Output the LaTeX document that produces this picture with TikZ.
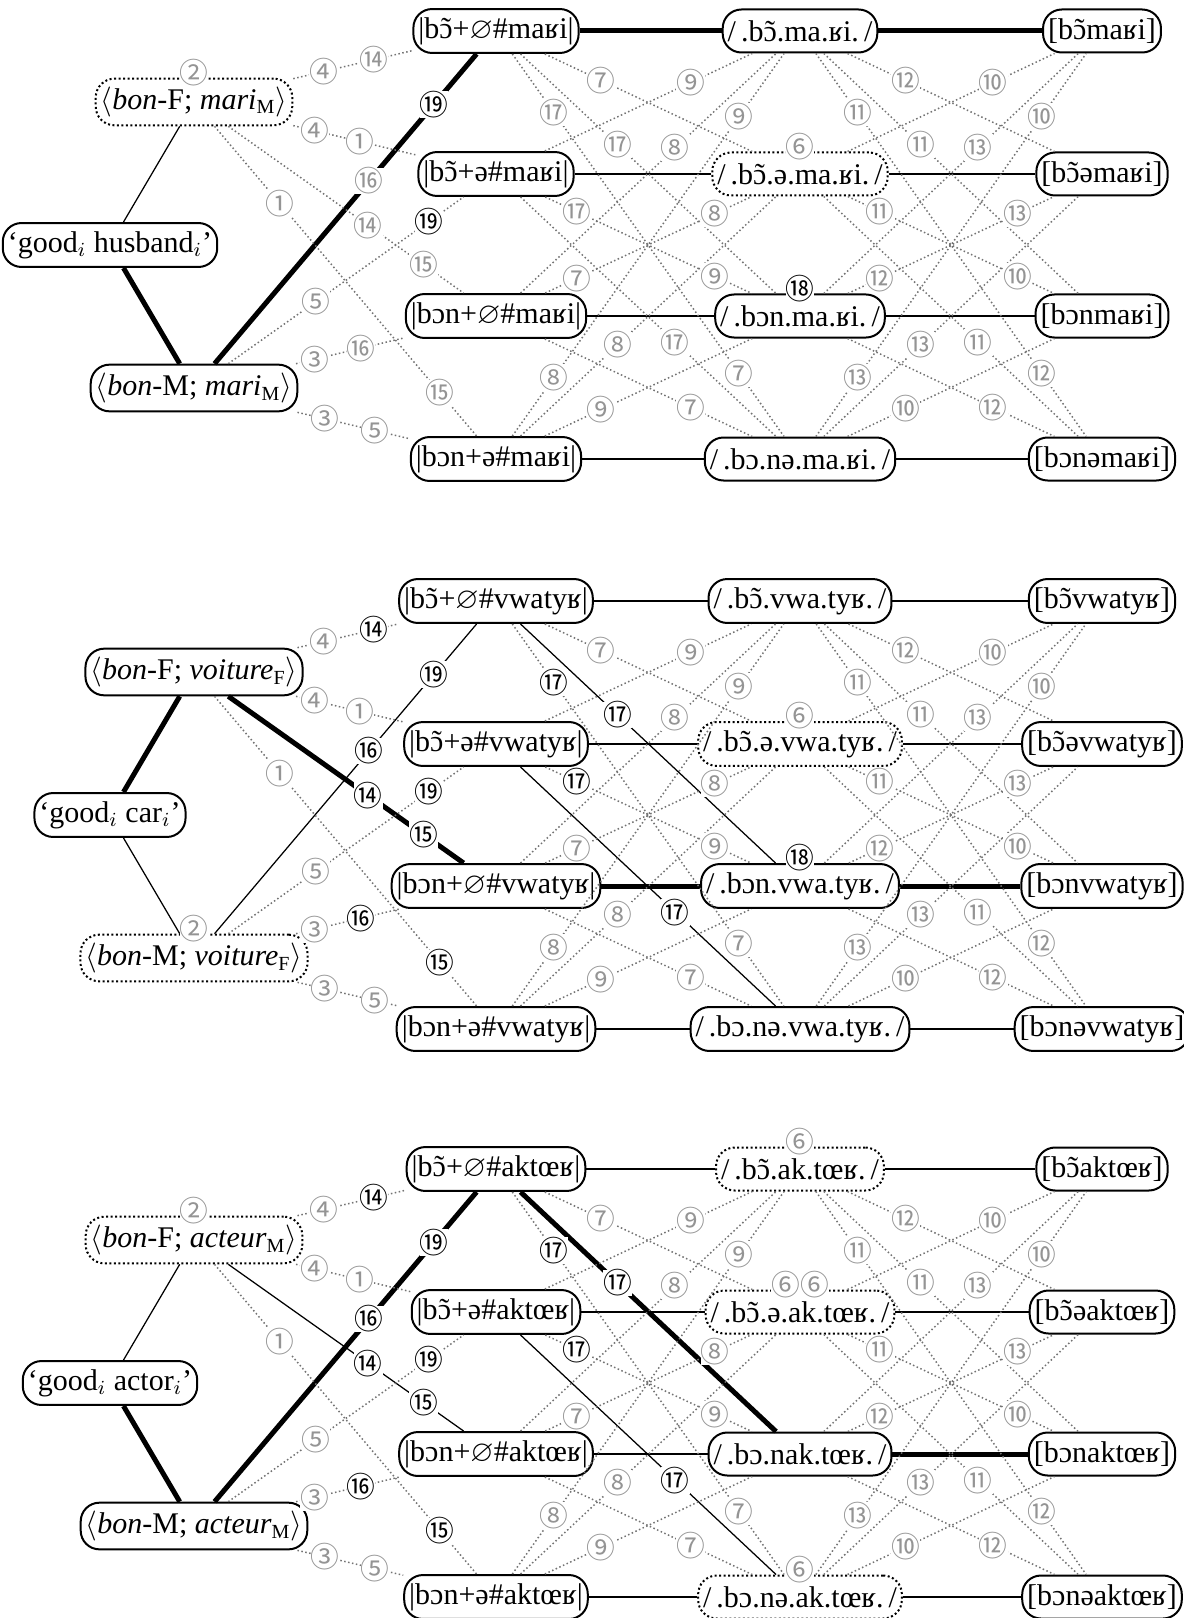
\documentclass[tikz,border=0pt]{standalone}
\usepackage{amssymb}
\usepackage{fontspec}
\setmainfont{Liberation Serif}
\newfontfamily\cjk{Noto Sans CJK JP}
\usetikzlibrary{positioning,calc}

\newcommand\circnum[1]{\char\numexpr"245F+#1\relax}
\newcommand\nasal[1]{\ooalign{#1\cr\hidewidth˜\hidewidth\cr}}

\tikzset{
    form/.style={draw, line width=0.8pt, rounded corners=7.5pt, minimum height=17.2pt,
        inner xsep=2pt, font=\fontsize{12}{14}\selectfont},
    loser/.style={form, dash pattern=on 0.8pt off 1pt},
    link/.style={line width=0.5pt},
    win/.style={line width=2pt},
    cand/.style={draw=black!55, line width=0.6pt, dash pattern=on 0.6pt off 1pt},
    viol/.style={font=\cjk\fontsize{11.5}{12}\selectfont, text=black!42, fill=white, inner sep=0pt},
    fatal/.style={text=black},
    top/.style={yshift=2pt},
}

% surface -> output candidates, same in every panel
\newcommand\surfacelinks[1]{%
    \foreach \i/\j in {1/2,1/3,1/4,2/1,2/3,2/4,3/1,3/2,3/4,4/1,4/2,4/3}
        \draw[cand] (#1-s\i) -- (#1-o\j);
}

% violation marks, placed along the links
\newcommand\violmarks[1]{%
    \foreach \a/\b/\p/\k in {f/u1/.43/4, f/u1/.594/14, f/u2/.40/4, f/u2/.55/1,
            f/u3/.577/14, f/u3/.76/15, f/u4/.284/1, f/u4/.815/15,
            m/u1/.58/16, m/u1/.795/19, m/u2/.404/5, m/u2/.778/19,
            m/u3/.40/3, m/u3/.553/16, m/u4/.434/3, m/u4/.60/5,
            u1/s2/.346/7, u1/s3/.40/17, u1/s4/.19/17, u1/s4/.80/7,
            u2/s1/.64/9, u2/s3/.266/17, u2/s3/.72/9, u2/s4/.59/17,
            u3/s1/.59/8, u3/s2/.265/7, u3/s2/.72/8, u3/s4/.64/7,
            u4/s1/.19/8, u4/s1/.80/9, u4/s2/.40/8, u4/s3/.346/9,
            s1/o2/.35/12, s1/o3/.40/11, s1/o4/.19/11, s1/o4/.80/12,
            s2/o1/.64/10, s2/o3/.266/11, s2/o3/.72/10, s2/o4/.59/11,
            s3/o1/.59/13, s3/o2/.265/12, s3/o2/.72/13, s3/o4/.64/12,
            s4/o1/.19/13, s4/o1/.80/10, s4/o2/.40/13, s4/o3/.35/10}
        \node[viol, v\k/.try] at ($(#1-\a)!\p!(#1-\b)$) {\circnum{\k}};%
}

\begin{document}
\begin{tikzpicture}[x=0.4pt, y=-0.4pt]
    \useasboundingbox (0,0) rectangle (1184,1618);

    %%% bon mari
    \begin{scope}[v18/.style=fatal, v19/.style=fatal]
        \node[form]  (a-mean) at (110,245) {‘good$_i$ husband$_i$’};
        \node[loser] (a-f) at (194,102) {$\langle$\textit{bon}-F; \textit{mari}\textsubscript{M}$\rangle$};
        \node[form]  (a-m) at (194,388) {$\langle$\textit{bon}-M; \textit{mari}\textsubscript{M}$\rangle$};
        \node[form]  (a-u1) at (496,31) {|b\nasal{ɔ}+$\varnothing$\#maʁi|};
        \node[form]  (a-u2) at (496,174) {|b\nasal{ɔ}+ə\#maʁi|};
        \node[form]  (a-u3) at (496,316) {|bɔn+$\varnothing$\#maʁi|};
        \node[form]  (a-u4) at (496,459) {|bɔn+ə\#maʁi|};
        \node[form]  (a-s1) at (800,31) {/\,.b\nasal{ɔ}.ma.ʁi.\,/};
        \node[loser] (a-s2) at (800,174) {/\,.b\nasal{ɔ}.ə.ma.ʁi.\,/};
        \node[form]  (a-s3) at (800,316) {/\,.bɔn.ma.ʁi.\,/};
        \node[form]  (a-s4) at (800,459) {/\,.bɔ.nə.ma.ʁi.\,/};
        \node[form]  (a-o1) at (1102,31) {[b\nasal{ɔ}maʁi]};
        \node[form]  (a-o2) at (1102,174) {[b\nasal{ɔ}əmaʁi]};
        \node[form]  (a-o3) at (1102,316) {[bɔnmaʁi]};
        \node[form]  (a-o4) at (1102,459) {[bɔnəmaʁi]};

        \draw[link] (a-mean) -- (a-f);
        \draw[win] (a-mean) -- (a-m);
        \draw[win] (a-m) -- (a-u1);
        \draw[win] (a-u1) -- (a-s1) -- (a-o1);
        \foreach \i in {2,3,4} \draw[link] (a-u\i) -- (a-s\i) -- (a-o\i);
        \foreach \a/\b in {f/u1,f/u2,f/u3,f/u4,m/u2,m/u3,m/u4} \draw[cand] (a-\a) -- (a-\b);
        \foreach \i/\j in {1/2,1/3,1/4,2/1,2/3,2/4,3/1,3/2,3/4,4/1,4/2,4/3} \draw[cand] (a-u\i) -- (a-s\j);
        \surfacelinks{a}
        \violmarks{a}
        \node[viol, top] at (a-f.north) {\circnum{2}};
        \node[viol, top] at (a-s2.north) {\circnum{6}};
        \node[viol, top, v18] at (a-s3.north) {\circnum{18}};
    \end{scope}

    %%% bonne voiture
    \begin{scope}[shift={(0,570)}, v14/.style=fatal, v15/.style=fatal, v16/.style=fatal,
            v17/.style=fatal, v18/.style=fatal, v19/.style=fatal]
        \node[form]  (b-mean) at (110,245) {‘good$_i$ car$_i$’};
        \node[form]  (b-f) at (194,102) {$\langle$\textit{bon}-F; \textit{voiture}\textsubscript{F}$\rangle$};
        \node[loser] (b-m) at (194,388) {$\langle$\textit{bon}-M; \textit{voiture}\textsubscript{F}$\rangle$};
        \node[form]  (b-u1) at (496,31) {|b\nasal{ɔ}+$\varnothing$\#vwatyʁ|};
        \node[form]  (b-u2) at (496,174) {|b\nasal{ɔ}+ə\#vwatyʁ|};
        \node[form]  (b-u3) at (496,316) {|bɔn+$\varnothing$\#vwatyʁ|};
        \node[form]  (b-u4) at (496,459) {|bɔn+ə\#vwatyʁ|};
        \node[form]  (b-s1) at (800,31) {/\,.b\nasal{ɔ}.vwa.tyʁ.\,/};
        \node[loser] (b-s2) at (800,174) {/\,.b\nasal{ɔ}.ə.vwa.tyʁ.\,/};
        \node[form]  (b-s3) at (800,316) {/\,.bɔn.vwa.tyʁ.\,/};
        \node[form]  (b-s4) at (800,459) {/\,.bɔ.nə.vwa.tyʁ.\,/};
        \node[form]  (b-o1) at (1102,31) {[b\nasal{ɔ}vwatyʁ]};
        \node[form]  (b-o2) at (1102,174) {[b\nasal{ɔ}əvwatyʁ]};
        \node[form]  (b-o3) at (1102,316) {[bɔnvwatyʁ]};
        \node[form]  (b-o4) at (1102,459) {[bɔnəvwatyʁ]};

        \draw[win] (b-mean) -- (b-f);
        \draw[link] (b-mean) -- (b-m);
        \draw[win] (b-f) -- (b-u3);
        \draw[link] (b-m) -- (b-u1);
        \draw[win] (b-u3) -- (b-s3) -- (b-o3);
        \foreach \i in {1,2,4} \draw[link] (b-u\i) -- (b-s\i) -- (b-o\i);
        \draw[link] (b-u1) -- (b-s3);
        \draw[link] (b-u2) -- (b-s4);
        \foreach \a/\b in {f/u1,f/u2,f/u4,m/u2,m/u3,m/u4} \draw[cand] (b-\a) -- (b-\b);
        \foreach \i/\j in {1/2,1/4,2/1,2/3,3/1,3/2,3/4,4/1,4/2,4/3} \draw[cand] (b-u\i) -- (b-s\j);
        \surfacelinks{b}
        \violmarks{b}
        \node[viol, top] at (b-m.north) {\circnum{2}};
        \node[viol, top] at (b-s2.north) {\circnum{6}};
        \node[viol, top, v18] at (b-s3.north) {\circnum{18}};
    \end{scope}

    %%% bon acteur
    \begin{scope}[shift={(0,1138)}, v14/.style=fatal, v15/.style=fatal, v16/.style=fatal,
            v17/.style=fatal, v19/.style=fatal]
        \node[form]  (c-mean) at (110,245) {‘good$_i$ actor$_i$’};
        \node[loser] (c-f) at (194,102) {$\langle$\textit{bon}-F; \textit{acteur}\textsubscript{M}$\rangle$};
        \node[form]  (c-m) at (194,388) {$\langle$\textit{bon}-M; \textit{acteur}\textsubscript{M}$\rangle$};
        \node[form]  (c-u1) at (496,31) {|b\nasal{ɔ}+$\varnothing$\#aktœʁ|};
        \node[form]  (c-u2) at (496,174) {|b\nasal{ɔ}+ə\#aktœʁ|};
        \node[form]  (c-u3) at (496,316) {|bɔn+$\varnothing$\#aktœʁ|};
        \node[form]  (c-u4) at (496,459) {|bɔn+ə\#aktœʁ|};
        \node[loser] (c-s1) at (800,31) {/\,.b\nasal{ɔ}.ak.tœʁ.\,/};
        \node[loser] (c-s2) at (800,174) {/\,.b\nasal{ɔ}.ə.ak.tœʁ.\,/};
        \node[form]  (c-s3) at (800,316) {/\,.bɔ.nak.tœʁ.\,/};
        \node[loser] (c-s4) at (800,459) {/\,.bɔ.nə.ak.tœʁ.\,/};
        \node[form]  (c-o1) at (1102,31) {[b\nasal{ɔ}aktœʁ]};
        \node[form]  (c-o2) at (1102,174) {[b\nasal{ɔ}əaktœʁ]};
        \node[form]  (c-o3) at (1102,316) {[bɔnaktœʁ]};
        \node[form]  (c-o4) at (1102,459) {[bɔnəaktœʁ]};

        \draw[link] (c-mean) -- (c-f);
        \draw[win] (c-mean) -- (c-m);
        \draw[link] (c-f) -- (c-u3);
        \draw[win] (c-m) -- (c-u1);
        \draw[win] (c-u1) -- (c-s3);
        \draw[link] (c-u2) -- (c-s4);
        \draw[link] (c-u3) -- (c-s3);
        \draw[win] (c-s3) -- (c-o3);
        \foreach \i in {1,2,4} \draw[link] (c-u\i) -- (c-s\i) -- (c-o\i);
        \foreach \a/\b in {f/u1,f/u2,f/u4,m/u2,m/u3,m/u4} \draw[cand] (c-\a) -- (c-\b);
        \foreach \i/\j in {1/2,1/4,2/1,2/3,3/1,3/2,3/4,4/1,4/2,4/3} \draw[cand] (c-u\i) -- (c-s\j);
        \surfacelinks{c}
        \violmarks{c}
        \node[viol, top] at (c-f.north) {\circnum{2}};
        \node[viol, top] at (c-s1.north) {\circnum{6}};
        \node[viol, top] at (c-s2.north) {\circnum{6}\circnum{6}};
        \node[viol, top] at (c-s4.north) {\circnum{6}};
    \end{scope}
\end{tikzpicture}
\end{document}
